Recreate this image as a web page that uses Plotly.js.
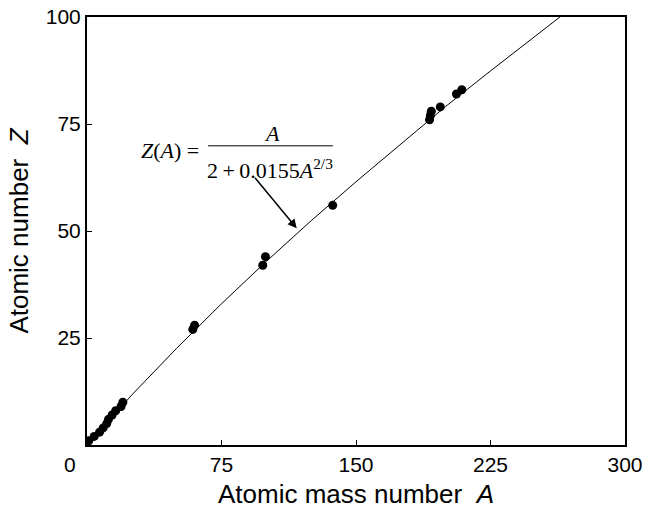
<!DOCTYPE html>
<html>
<head>
<meta charset="utf-8">
<script src="https://cdn.plot.ly/plotly-3.0.1.min.js"></script>
<style>html,body{margin:0;padding:0;background:#fff;}#chart{width:647px;height:518px;}</style>
</head>
<body>
<div id="chart"></div>
<script>
// Measured elements: atomic mass number A and atomic number Z
const massA = [1, 4, 7, 9, 11, 12, 14, 16, 19, 20, 59, 60, 98, 99.5, 137, 191, 191.5, 192, 197, 206, 209];
const numberZ = [1, 2, 3, 4, 5, 6, 7, 8, 9, 10, 27, 28, 42, 44, 56, 76, 77, 78, 79, 82, 83];

// Curve Z(A)
const curveA = [0, 25, 50, 75, 100, 125, 150, 175, 200, 225, 250, 264];
const curveZ = [0, 11.7, 22.6, 33.0, 42.9, 52.4, 61.5, 70.4, 79.1, 87.4, 95.6, 100.1];

const xTicks = [75, 150, 225, 300];
const yTicks = [25, 50, 75, 100];

const traces = [
  {x: curveA, y: curveZ, mode: 'lines', line: {color: '#000', width: 1}, hoverinfo: 'skip'},
  {x: massA, y: numberZ, mode: 'markers', marker: {color: '#000', size: 9}}
];

const tickFont = {family: 'Liberation Sans, Arial, sans-serif', size: 21, color: '#000'};
const titleFont = {family: 'Liberation Sans, Arial, sans-serif', size: 26, color: '#000'};
const serif = {family: 'Liberation Serif, Times New Roman, serif', size: 22, color: '#000'};

const layout = {
  width: 647, height: 518,
  margin: {l: 87, r: 22, t: 17, b: 73},
  paper_bgcolor: '#fff', plot_bgcolor: '#fff',
  showlegend: false,
  xaxis: {
    range: [0, 300], tickvals: xTicks, ticks: 'inside', ticklen: 5, tickwidth: 1, tickcolor: '#000',
    showline: true, linecolor: '#000', linewidth: 2, mirror: true, showgrid: false, zeroline: false,
    tickfont: tickFont,
    title: {text: 'Atomic mass number  <i>A</i>', font: titleFont, standoff: 10}
  },
  yaxis: {
    range: [0, 100], tickvals: yTicks, ticks: 'inside', ticklen: 5, tickwidth: 1, tickcolor: '#000',
    showline: true, linecolor: '#000', linewidth: 2, mirror: true, showgrid: false, zeroline: false,
    tickfont: tickFont,
    title: {text: 'Atomic number  <i>Z</i>', font: titleFont, standoff: 10}
  },
  shapes: [
    {type: 'line', xref: 'paper', yref: 'paper', x0: 0.225, x1: 0.457, y0: 0.699, y1: 0.699, line: {color: '#000', width: 1}}
  ],
  annotations: [
    {xref: 'paper', yref: 'paper', x: -0.032, y: -0.045, text: '0', showarrow: false, font: tickFont, xanchor: 'center', yanchor: 'middle'},
    {xref: 'paper', yref: 'paper', x: 0.155, y: 0.687, text: '<i>Z</i>(<i>A</i>) =', showarrow: false, font: serif, xanchor: 'center', yanchor: 'middle'},
    {xref: 'paper', yref: 'paper', x: 0.343, y: 0.728, text: '<i>A</i>', showarrow: false, font: serif, xanchor: 'center', yanchor: 'middle'},
    {xref: 'paper', yref: 'paper', x: 0.341, y: 0.645, text: '2\u2009+\u20090.0155<i>A</i><sup>2/3</sup>', showarrow: false, font: serif, xanchor: 'center', yanchor: 'middle'},
    {xref: 'paper', yref: 'paper', x: 0.3898, y: 0.5063, text: '', showarrow: true, ax: -43, ay: -52, axref: 'pixel', ayref: 'pixel',
     arrowhead: 2, arrowsize: 1.2, arrowwidth: 1.5, arrowcolor: '#000'}
  ]
};

Plotly.newPlot('chart', traces, layout, {displayModeBar: false, staticPlot: true});
</script>
</body>
</html>
